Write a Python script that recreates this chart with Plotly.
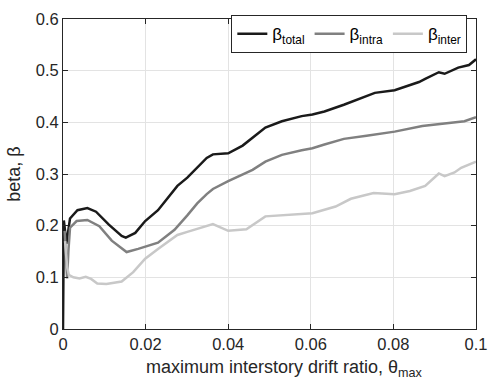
import plotly.graph_objects as go

# ---- data ----
total_x = [0, 0.0002, 0.0005, 0.0008, 0.0011, 0.0017, 0.0035, 0.0059, 0.008, 0.0111, 0.0142, 0.0152,
           0.0175, 0.0199, 0.023, 0.0255, 0.0277, 0.0301, 0.0325, 0.0348, 0.0363, 0.040, 0.0435,
           0.0459, 0.049, 0.053, 0.0578, 0.0604, 0.0633, 0.068, 0.072, 0.0755, 0.0803, 0.0835,
           0.0862, 0.0877, 0.091, 0.0924, 0.0957, 0.0983, 0.1]
total_y = [0, 0.21, 0.19, 0.165, 0.18, 0.214, 0.230, 0.234, 0.227, 0.202, 0.18, 0.177,
           0.186, 0.209, 0.230, 0.255, 0.277, 0.293, 0.312, 0.331, 0.338, 0.340, 0.355,
           0.371, 0.39, 0.402, 0.412, 0.415, 0.421, 0.434, 0.447, 0.457, 0.462, 0.470,
           0.478, 0.484, 0.497, 0.494, 0.506, 0.511, 0.522]

intra_x = [0.0004, 0.0007, 0.001, 0.0013, 0.0017, 0.0033, 0.0059, 0.0088, 0.0118, 0.0154, 0.0182,
           0.023, 0.027, 0.0301, 0.0325, 0.0348, 0.0363, 0.040, 0.0435, 0.0459, 0.049, 0.053,
           0.0578, 0.0604, 0.0633, 0.068, 0.0735, 0.0803, 0.087, 0.094, 0.0972, 0.1]
intra_y = [0.19, 0.13, 0.098, 0.15, 0.196, 0.209, 0.211, 0.199, 0.171, 0.149, 0.155,
           0.167, 0.192, 0.22, 0.243, 0.261, 0.271, 0.286, 0.299, 0.308, 0.324, 0.337,
           0.346, 0.350, 0.357, 0.368, 0.374, 0.382, 0.393, 0.399, 0.402, 0.41]

inter_x = [0.0005, 0.0008, 0.001, 0.0014, 0.0025, 0.004, 0.0055, 0.0068, 0.0083, 0.0105, 0.0142,
           0.017, 0.0199, 0.023, 0.0277, 0.0301, 0.0363, 0.040, 0.0444, 0.049, 0.056, 0.0604,
           0.066, 0.0697, 0.0752, 0.0803, 0.084, 0.0877, 0.091, 0.0924, 0.0948, 0.0964, 0.1]
inter_y = [0.17, 0.13, 0.12, 0.105, 0.10, 0.098, 0.101, 0.097, 0.088, 0.087, 0.092,
           0.11, 0.136, 0.155, 0.182, 0.188, 0.203, 0.19, 0.193, 0.218, 0.221, 0.224,
           0.237, 0.252, 0.263, 0.261, 0.267, 0.277, 0.301, 0.296, 0.303, 0.312, 0.324]

x_ticks = [0, 0.02, 0.04, 0.06, 0.08, 0.1]
x_labels = ["0", "0.02", "0.04", "0.06", "0.08", "0.1"]
y_ticks = [0, 0.1, 0.2, 0.3, 0.4, 0.5, 0.6]
y_labels = ["0", "0.1", "0.2", "0.3", "0.4", "0.5", "0.6"]

FONT = "Liberation Sans, Arial, sans-serif"
AX = "#262626"

fig = go.Figure()
fig.add_trace(go.Scatter(x=total_x, y=total_y, mode="lines", name="β<sub>total</sub>",
                         line=dict(color="#1a1a1a", width=2.5)))
fig.add_trace(go.Scatter(x=intra_x, y=intra_y, mode="lines", name="β<sub>intra</sub>",
                         line=dict(color="#808080", width=2.5)))
fig.add_trace(go.Scatter(x=inter_x, y=inter_y, mode="lines", name="β<sub>inter</sub>",
                         line=dict(color="#c8c8c8", width=2.5)))

axis_common = dict(showline=True, linecolor=AX, linewidth=1, mirror="allticks",
                   ticks="inside", ticklen=5, tickcolor=AX, showgrid=True,
                   gridcolor="#e3e3e3", gridwidth=1, zeroline=False,
                   tickfont=dict(family=FONT, size=16.5, color=AX))

fig.update_xaxes(range=[0, 0.1], tickvals=x_ticks, ticktext=x_labels, **axis_common)
fig.update_yaxes(range=[0, 0.6], tickvals=y_ticks, ticktext=y_labels,
                 title=dict(text="beta, β", font=dict(family=FONT, size=18, color=AX), standoff=10),
                 **axis_common)

fig.add_annotation(text="maximum interstory drift ratio, θ<sub>max</sub>",
                   xref="paper", yref="paper", x=0.536, y=-0.128,
                   xanchor="center", yanchor="middle", showarrow=False,
                   font=dict(family=FONT, size=18, color=AX))

fig.update_layout(
    width=497, height=389,
    margin=dict(l=63, r=12, t=10, b=60),
    paper_bgcolor="white", plot_bgcolor="white",
    font=dict(family=FONT, size=16, color=AX),
    legend=dict(orientation="h", x=0.979, y=1.012, xanchor="right", yanchor="top",
                bgcolor="white", bordercolor=AX, borderwidth=1,
                font=dict(family=FONT, size=17, color="#000000"),
                tracegroupgap=0),
    showlegend=True,
)

fig.write_html("out.html")
